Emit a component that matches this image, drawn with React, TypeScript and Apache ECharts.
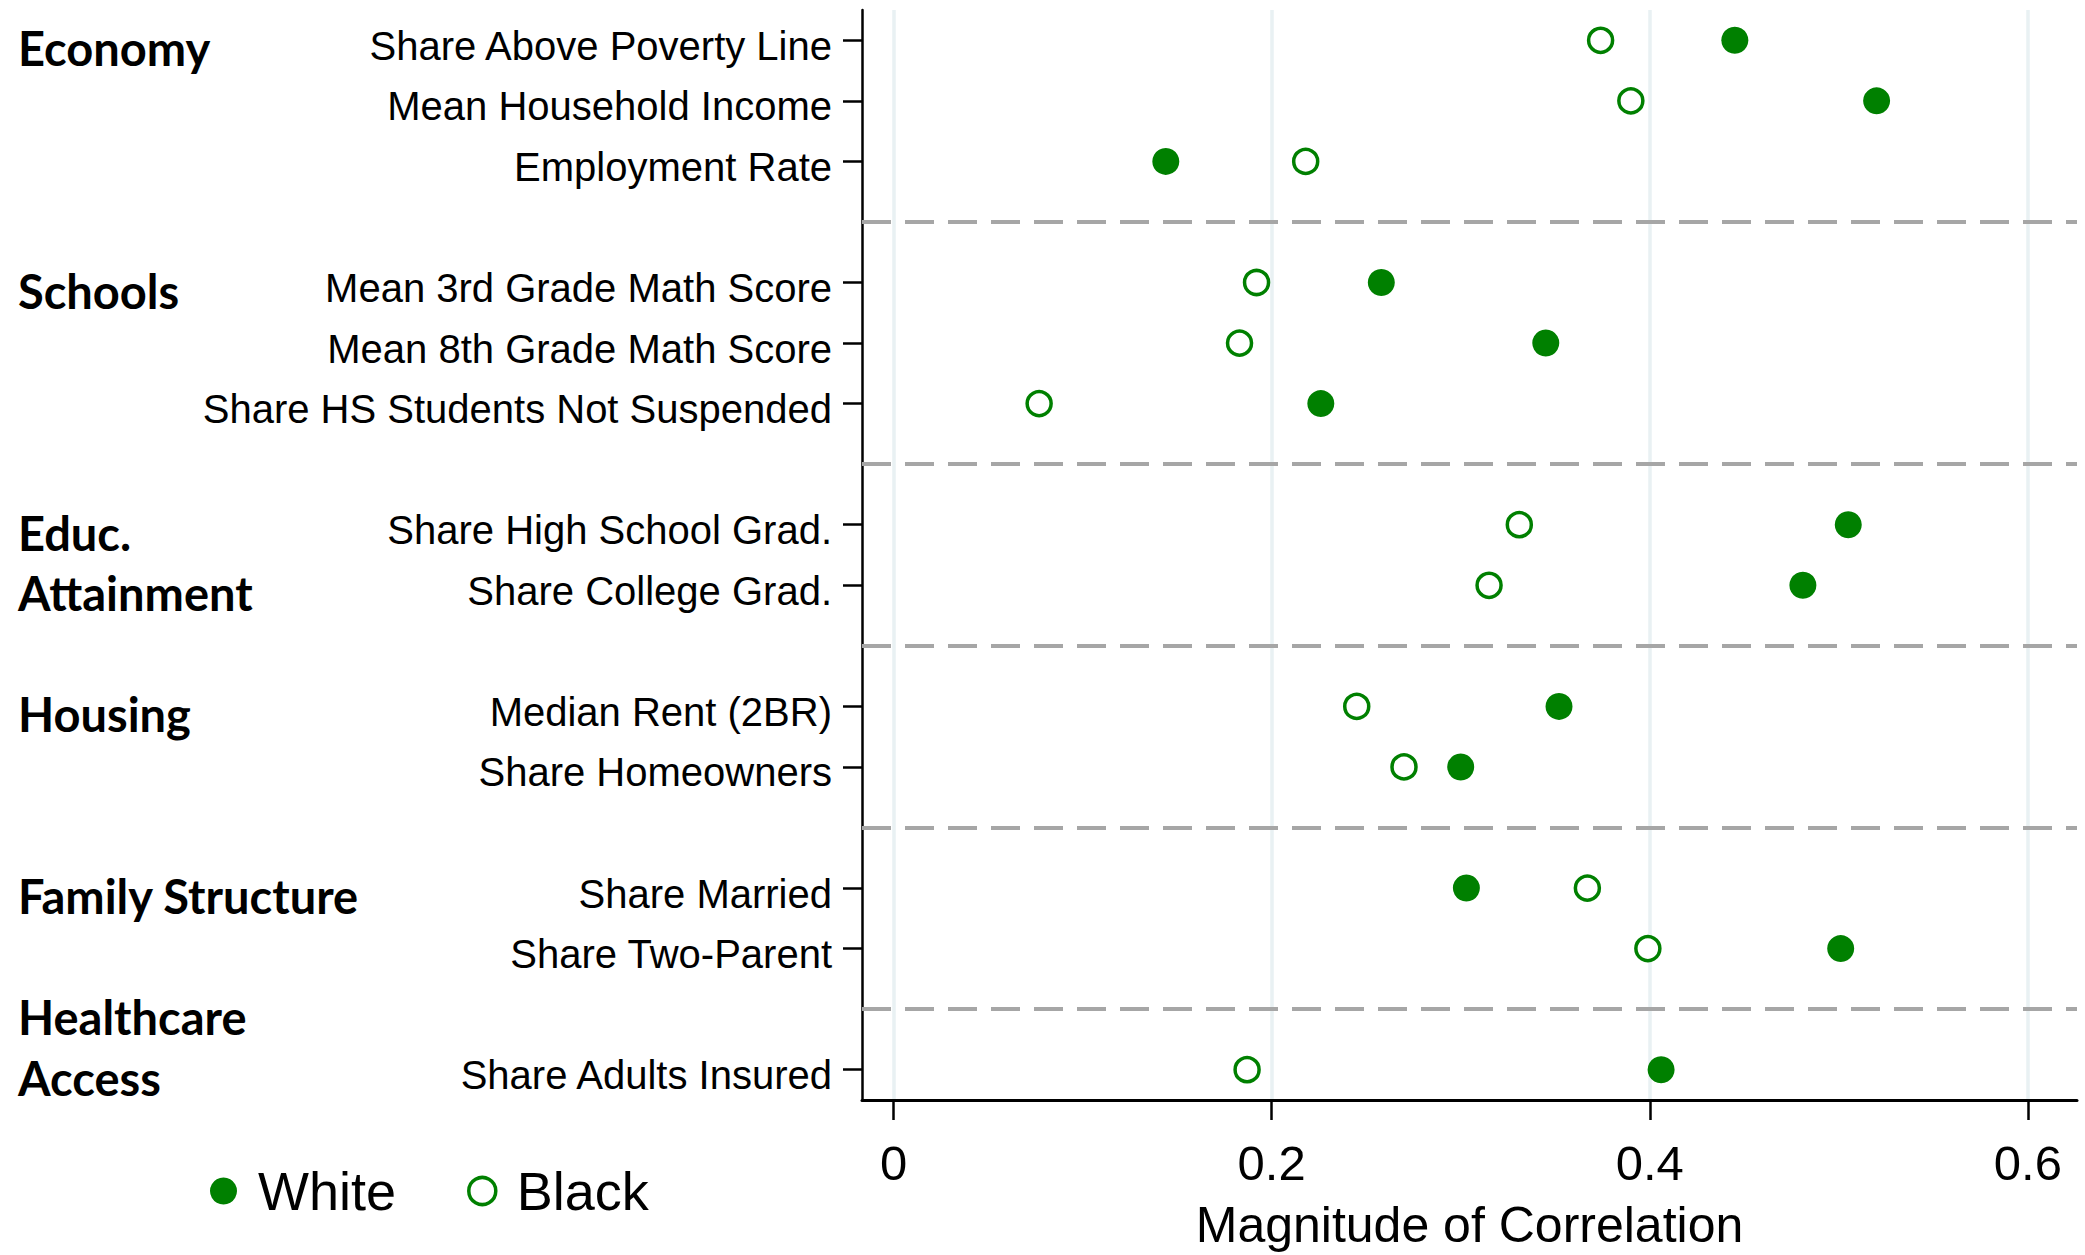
import React, { useEffect, useRef } from "react";
import * as echarts from "echarts";

// Row labels (empty string = separator row between groups)
const rowLabels: string[] = [
  "Share Above Poverty Line",
  "Mean Household Income",
  "Employment Rate",
  "",
  "Mean 3rd Grade Math Score",
  "Mean 8th Grade Math Score",
  "Share HS Students Not Suspended",
  "",
  "Share High School Grad.",
  "Share College Grad.",
  "",
  "Median Rent (2BR)",
  "Share Homeowners",
  "",
  "Share Married",
  "Share Two-Parent",
  "",
  "Share Adults Insured",
];

// Group labels shown on the far left, aligned to rows
const groupLabels: string[] = [
  "Economy", "", "", "",
  "Schools", "", "", "",
  "Educ.", "Attainment", "",
  "Housing", "", "",
  "Family Structure", "", "Healthcare", "Access",
];

const whiteValues: (number | null)[] = [
  0.445, 0.520, 0.144, null,
  0.258, 0.345, 0.226, null,
  0.505, 0.481, null,
  0.352, 0.300, null,
  0.303, 0.501, null,
  0.406,
];

const blackValues: (number | null)[] = [
  0.374, 0.390, 0.218, null,
  0.192, 0.183, 0.077, null,
  0.331, 0.315, null,
  0.245, 0.270, null,
  0.367, 0.399, null,
  0.187,
];

const xTicks: number[] = [0, 0.2, 0.4, 0.6];
const xTickLabels: string[] = ["0", "0.2", "0.4", "0.6"];

const GREEN = "#008000";

export default function App() {
  const ref = useRef<HTMLDivElement>(null);

  useEffect(() => {
    if (!ref.current) return;
    const chart = echarts.init(ref.current, null, { renderer: "svg" });

    const rowKeys = rowLabels.map((l, i) => (l === "" ? `sep${i}` : l));
    const sepIdx: number[] = [];
    rowLabels.forEach((l, i) => {
      if (l === "") sepIdx.push(i);
    });

    const toPoints = (vals: (number | null)[]) =>
      vals
        .map((v, i) => (v === null ? null : [v, i]))
        .filter((p) => p !== null);

    chart.setOption({
      animation: false,
      backgroundColor: "#ffffff",
      grid: { left: 862, right: 8, top: 10, bottom: 151 },
      legend: {
        left: 210,
        top: 1164,
        icon: "circle",
        itemWidth: 27,
        itemHeight: 27,
        itemGap: 71,
        padding: 0,
        textStyle: {
          fontFamily: "Liberation Sans",
          fontSize: 54,
          color: "#000",
          padding: [0, 0, 0, 16],
        },
        data: [
          { name: "White", itemStyle: { color: GREEN, borderWidth: 0 } },
          {
            name: "Black",
            itemStyle: { color: "#ffffff", borderColor: GREEN, borderWidth: 3.5 },
          },
        ],
      },
      xAxis: {
        type: "value",
        min: -0.0167,
        max: 0.626,
        name: "Magnitude of Correlation",
        nameLocation: "middle",
        nameGap: 100,
        nameTextStyle: {
          fontFamily: "Liberation Sans",
          fontSize: 50,
          color: "#000",
        },
        axisLine: { show: true, onZero: false, lineStyle: { color: "#000", width: 3 } },
        axisTick: {
          show: true,
          length: 20,
          customValues: xTicks,
          lineStyle: { color: "#000", width: 2.5 },
        },
        axisLabel: {
          customValues: xTicks,
          fontFamily: "Liberation Sans",
          fontSize: 49,
          color: "#000",
          margin: 38,
          formatter: (v: number) => {
            const i = xTicks.findIndex((t) => Math.abs(t - v) < 1e-9);
            return i >= 0 ? xTickLabels[i] : "";
          },
        },
        splitLine: {
          show: true,
          lineStyle: { color: "#e9f1f3", width: 3.5 },
        },
      },
      yAxis: [
        {
          type: "category",
          data: rowKeys,
          inverse: true,
          boundaryGap: true,
          axisLine: { show: true, onZero: false, lineStyle: { color: "#000", width: 2.5 } },
          axisTick: {
            show: true,
            inside: false,
            alignWithLabel: true,
            length: 19,
            interval: (idx: number) => rowLabels[idx] !== "",
            lineStyle: { color: "#000", width: 2.5 },
          },
          axisLabel: {
            interval: 0,
            margin: 30,
            fontFamily: "Liberation Sans",
            fontSize: 40,
            color: "#000",
            verticalAlign: "top",
            lineHeight: 11,
            formatter: (_v: string, idx: number) => rowLabels[idx],
          },
          splitLine: { show: false },
        },
        {
          type: "category",
          data: rowKeys,
          inverse: true,
          position: "left",
          offset: 844,
          boundaryGap: true,
          axisLine: { show: false, onZero: false },
          axisTick: { show: false },
          splitLine: { show: false },
          axisLabel: {
            interval: 0,
            align: "left",
            margin: 0,
            fontFamily: "Lato",
            fontWeight: "bold",
            fontSize: 47,
            color: "#000",
            verticalAlign: "top",
            lineHeight: 16,
            formatter: (_v: string, idx: number) => groupLabels[idx],
          },
        },
      ],
      series: [
        {
          name: "White",
          type: "scatter",
          yAxisIndex: 0,
          symbol: "circle",
          symbolSize: 27,
          itemStyle: { color: GREEN, opacity: 1 },
          data: toPoints(whiteValues),
          z: 3,
          markLine: {
            silent: true,
            symbol: "none",
            label: { show: false },
            lineStyle: { color: "#a6a6a6", width: 4, type: [29, 14] },
            data: sepIdx.map((i) => ({ yAxis: i })),
          },
        },
        {
          name: "Black",
          type: "scatter",
          yAxisIndex: 0,
          symbol: "circle",
          symbolSize: 24,
          itemStyle: { color: "#ffffff", borderColor: GREEN, borderWidth: 3.5, opacity: 1 },
          data: toPoints(blackValues),
          z: 4,
        },
      ],
    });

    return () => chart.dispose();
  }, []);

  return (
    <div
      ref={ref}
      style={{ position: "fixed", left: 0, top: 0, width: 2085, height: 1255 }}
    />
  );
}
